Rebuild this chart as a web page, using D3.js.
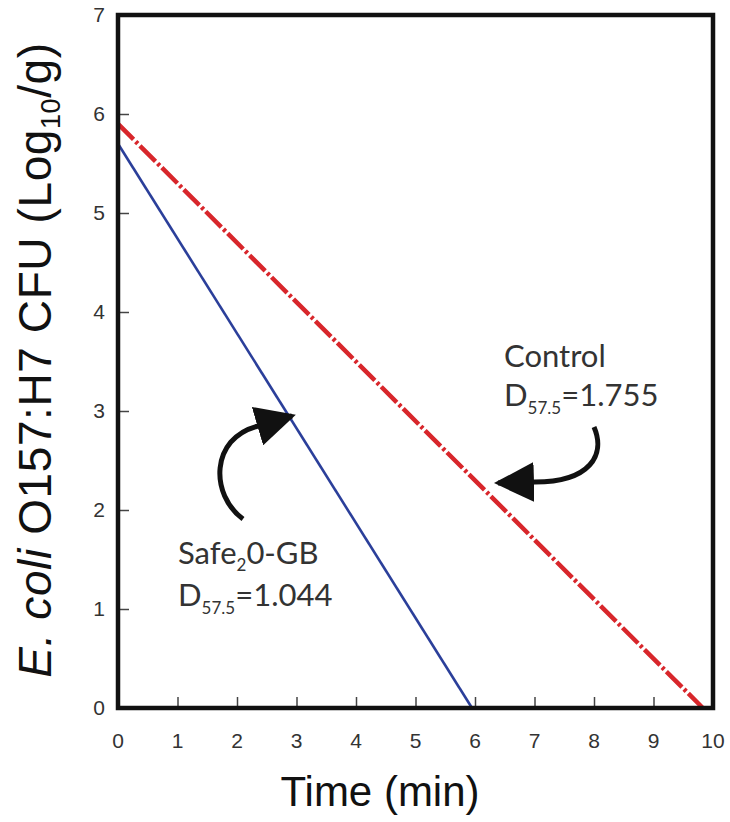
<!DOCTYPE html>
<html>
<head>
<meta charset="utf-8">
<title>E. coli survival</title>
<script src="https://d3js.org/d3.v7.min.js"></script>
<style>
  body { margin: 0; background: #fff; }
  svg { display: block; }
</style>
</head>
<body>
<svg id="chart" width="730" height="822"></svg>
<script>
// data
var xTicks = [0, 1, 2, 3, 4, 5, 6, 7, 8, 9, 10];
var yTicks = [0, 1, 2, 3, 4, 5, 6, 7];
var controlTime = [0, 9.83];
var controlLog = [5.9, 0];
var safeTime = [0, 5.95];
var safeLog = [5.7, 0];

var svg = d3.select('#chart');
var m = { left: 118, right: 713, top: 15, bottom: 708 };

var x = d3.scaleLinear().domain([0, 10]).range([m.left, m.right]);
var y = d3.scaleLinear().domain([0, 7]).range([m.bottom, m.top]);

// ticks pointing inward
svg.append('g')
	.attr('transform', 'translate(0,' + m.bottom + ')')
	.call(d3.axisTop(x).tickValues(xTicks).tickSize(11).tickFormat(''))
	.call(g => g.select('.domain').remove())
	.call(g => g.selectAll('line').attr('stroke', '#444').attr('stroke-width', 1.5));

svg.append('g')
	.attr('transform', 'translate(' + m.left + ',0)')
	.call(d3.axisRight(y).tickValues(yTicks).tickSize(11).tickFormat(''))
	.call(g => g.select('.domain').remove())
	.call(g => g.selectAll('line').attr('stroke', '#444').attr('stroke-width', 1.5));

// tick labels
var tickFont = "'Liberation Sans', Arial, sans-serif";
svg.append('g').selectAll('text')
	.data(xTicks).enter().append('text')
	.attr('x', d => x(d))
	.attr('y', 748)
	.attr('text-anchor', 'middle')
	.attr('font-family', tickFont)
	.attr('font-size', 21)
	.attr('fill', '#333')
	.text(d => d);

svg.append('g').selectAll('text')
	.data(yTicks).enter().append('text')
	.attr('x', 105)
	.attr('y', d => y(d) + 7)
	.attr('text-anchor', 'end')
	.attr('font-family', tickFont)
	.attr('font-size', 21)
	.attr('fill', '#333')
	.text(d => d);

// lines
var line = d3.line().x(d => x(d[0])).y(d => y(d[1]));

svg.append('path')
	.datum(d3.zip(safeTime, safeLog))
	.attr('d', line)
	.attr('fill', 'none')
	.attr('stroke', '#2b3f9a')
	.attr('stroke-width', 2.6);

svg.append('path')
	.datum(d3.zip(controlTime, controlLog))
	.attr('d', line)
	.attr('fill', 'none')
	.attr('stroke', '#d8262b')
	.attr('stroke-width', 4.5)
	.attr('stroke-dasharray', '22,3,3,3');

// frame
svg.append('rect')
	.attr('x', m.left).attr('y', m.top)
	.attr('width', m.right - m.left).attr('height', m.bottom - m.top)
	.attr('fill', 'none')
	.attr('stroke', '#111')
	.attr('stroke-width', 4.5);

// arrows
svg.append('defs').append('marker')
	.attr('id', 'head')
	.attr('viewBox', '0 0 10 10')
	.attr('refX', 9).attr('refY', 5)
	.attr('markerWidth', 8).attr('markerHeight', 8)
	.attr('markerUnits', 'strokeWidth')
	.attr('orient', 'auto')
	.append('path')
	.attr('d', 'M0,0 L10,5 L0,10 Z')
	.attr('fill', '#111');

svg.append('path')
	.attr('d', 'M594,427 C606,455 590,482 535,482 L498,483')
	.attr('fill', 'none')
	.attr('stroke', '#111')
	.attr('stroke-width', 5)
	.attr('marker-end', 'url(#head)');

svg.append('path')
	.attr('d', 'M243,519 C210,495 210,438 258,426 L292,416')
	.attr('fill', 'none')
	.attr('stroke', '#111')
	.attr('stroke-width', 5)
	.attr('marker-end', 'url(#head)');

// annotations
var annFont = "Lato, 'DejaVu Sans', sans-serif";

function dLabel(tx, ty, val) {
	var t = svg.append('text')
		.attr('x', tx).attr('y', ty)
		.attr('font-family', annFont)
		.attr('font-size', 31)
		.attr('fill', '#333');
	t.append('tspan').text('D');
	t.append('tspan').attr('font-size', 17).attr('dy', 8).text('57.5');
	t.append('tspan').attr('dy', -8).text('=' + val);
}

svg.append('text')
	.attr('x', 504).attr('y', 367)
	.attr('font-family', annFont)
	.attr('font-size', 31)
	.attr('fill', '#333')
	.text('Control');
dLabel(504, 406, '1.755');

var st = svg.append('text')
	.attr('x', 178).attr('y', 564)
	.attr('font-family', annFont)
	.attr('font-size', 31)
	.attr('fill', '#333');
st.append('tspan').text('Safe');
st.append('tspan').attr('font-size', 17).attr('dy', 7).text('2');
st.append('tspan').attr('dy', -7).text('0-GB');
dLabel(178, 606, '1.044');

// axis titles
svg.append('text')
	.attr('x', 380).attr('y', 806)
	.attr('text-anchor', 'middle')
	.attr('font-family', tickFont)
	.attr('font-size', 42)
	.attr('fill', '#111')
	.text('Time (min)');

var yt = svg.append('text')
	.attr('transform', 'translate(51,360) rotate(-90)')
	.attr('text-anchor', 'middle')
	.attr('font-family', tickFont)
	.attr('font-size', 46)
	.attr('letter-spacing', 0.6)
	.attr('fill', '#111');
yt.append('tspan').attr('font-style', 'italic').text('E. coli');
yt.append('tspan').text(' O157:H7 CFU (Log');
yt.append('tspan').attr('font-size', 27).attr('dy', 9).text('10');
yt.append('tspan').attr('dy', -9).text('/g)');
</script>
</body>
</html>
